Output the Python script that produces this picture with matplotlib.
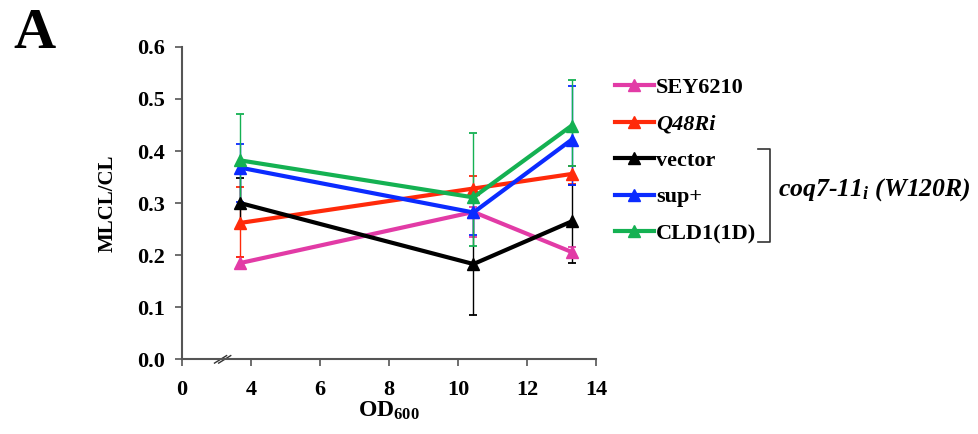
import matplotlib.pyplot as plt
from matplotlib.lines import Line2D
import matplotlib.transforms as mtransforms

plt.rcParams['font.family'] = ['Liberation Serif', 'DejaVu Serif']
plt.rcParams['mathtext.fontset'] = 'custom'
plt.rcParams['mathtext.rm'] = 'Liberation Serif:bold'
plt.rcParams['mathtext.bf'] = 'Liberation Serif:bold'
plt.rcParams['mathtext.it'] = 'Liberation Serif:bold:italic'

# ==============================================================================
# Datos
# ==============================================================================
od600 = [3.7, 10.45, 13.3]

names = ["SEY6210", "Q48Ri", "vector", "sup+", "CLD1(1D)"]
colors = ["#E23BA6", "#FF2A0A", "#000000", "#0B2BFF", "#14B152"]

sey6210 = [0.185, 0.283, 0.206]
q48ri = [0.262, 0.328, 0.356]
vector = [0.300, 0.183, 0.265]
sup = [0.368, 0.282, 0.422]
cld1 = [0.382, 0.311, 0.449]

# barras de error (abajo, arriba)
sey6210_err = [[0.010, 0.049, 0.010], [0.012, 0.010, 0.010]]
q48ri_err = [[0.065, 0.020, 0.020], [0.069, 0.024, 0.015]]
vector_err = [[0.050, 0.097, 0.080], [0.049, 0.097, 0.070]]
sup_err = [[0.066, 0.043, 0.087], [0.045, 0.040, 0.103]]
cld1_err = [[0.090, 0.094, 0.077], [0.090, 0.124, 0.087]]

series = [sey6210, q48ri, vector, sup, cld1]
errors = [sey6210_err, q48ri_err, vector_err, sup_err, cld1_err]

x_ticks = [2, 4, 6, 8, 10, 12, 14]
x_labels = ["0", "4", "6", "8", "10", "12", "14"]
y_ticks = [0.0, 0.1, 0.2, 0.3, 0.4, 0.5, 0.6]

# ==============================================================================
# Figura
# ==============================================================================
fig = plt.figure(figsize=(9.79, 4.34), dpi=100)
ax = fig.add_axes([0.1856, 0.172, 0.4232, 0.720])

handles = []
for vals, err, col, name in zip(series, errors, colors, names):
    ax.errorbar(od600, vals, yerr=err, fmt="none", ecolor=col,
                elinewidth=1.0, capsize=3, capthick=1.3, zorder=2)
    h, = ax.plot(od600, vals, color=col, lw=3.0, marker="^", ms=9,
                 label=name, zorder=3)
    handles.append(h)

ax.set_xlim(2, 14)
ax.set_ylim(0, 0.6)
ax.set_xticks(x_ticks)
ax.set_xticklabels(x_labels)
ax.set_yticks(y_ticks)
ax.set_yticklabels([f"{v:.1f}" for v in y_ticks])

for s in ["top", "right"]:
    ax.spines[s].set_visible(False)
for s in ["left", "bottom"]:
    ax.spines[s].set_color("#555555")
    ax.spines[s].set_linewidth(1.5)
ax.tick_params(direction="out", length=5, width=1.2, color="#555555",
               labelsize=16, pad=7)
ax.tick_params(axis="x", pad=10)
for t in ax.get_xticklabels() + ax.get_yticklabels():
    t.set_fontweight("bold")

# marca de corte del eje x
trans = mtransforms.blended_transform_factory(ax.transData, ax.transAxes)
for dx in (0.0, 0.12):
    ax.plot([2.95 + dx, 3.3 + dx], [-0.012, 0.012], color="#333333", lw=1.0,
            transform=trans, clip_on=False)

ax.set_ylabel("MLCL/CL", fontsize=15, fontweight="bold", labelpad=14)
ax.set_xlabel(r"OD$_{600}$", fontsize=17, fontweight="bold", labelpad=0)

fig.text(0.014, 0.89, "A", fontsize=42, fontweight="bold")

leg = ax.legend(handles=handles, loc="upper left",
                bbox_to_anchor=(0.628, 0.822), bbox_transform=fig.transFigure,
                frameon=False, fontsize=16, handlelength=1.75,
                handletextpad=0.1, labelspacing=0.72, borderaxespad=0,
                borderpad=0)
for i, t in enumerate(leg.get_texts()):
    t.set_fontweight("bold")
    if i == 1:
        t.set_fontstyle("italic")

# corchete para las cepas coq7-11
bx0, bx1 = 758 / 979, 770 / 979
by0, by1 = 1 - 149 / 434, 1 - 242 / 434
fig.add_artist(Line2D([bx0, bx1, bx1, bx0], [by0, by0, by1, by1],
                      color="#333333", lw=1.2))
fig.text(778 / 979, 1 - 190 / 434, r"coq7-11$_{\mathit{i}}$ (W120R)",
         fontsize=18.5, fontweight="bold", fontstyle="italic", va="center")

fig.savefig("out.png", dpi=100)
